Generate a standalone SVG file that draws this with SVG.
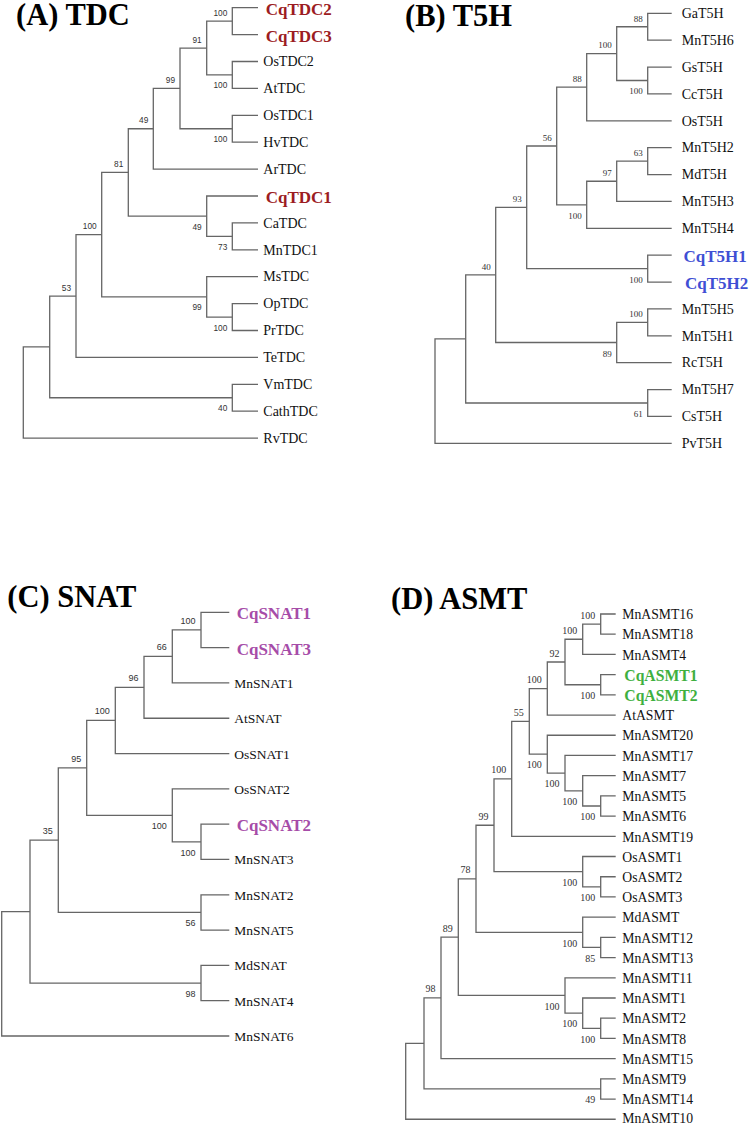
<svg xmlns="http://www.w3.org/2000/svg" width="749" height="1124" viewBox="0 0 749 1124">
<style>
.br{fill:none;stroke:#666;stroke-width:1.3}
.ttl{font-family:"Liberation Serif","Times New Roman",serif;font-weight:bold;font-size:30.5px;fill:#000}
.lf{font-family:"Liberation Serif","Times New Roman",serif;fill:#111}
.la{font-size:14px}
.lc{font-size:13.5px}
.ld{font-size:13.7px}
.hA{font-weight:bold;font-size:17px;fill:#9c1c22}
.hB{font-weight:bold;font-size:17px;fill:#3f4fd4}
.hC{font-weight:bold;font-size:17px;fill:#a64ca8}
.hD{font-weight:bold;font-size:15.7px;fill:#3fb03f}
.bs{font-family:"Liberation Sans",Arial,sans-serif;fill:#333;text-anchor:end}
.bsr{font-family:"Liberation Serif","Times New Roman",serif;fill:#333;text-anchor:end}
.bA{font-size:8.3px}
.bB{font-size:9px}
.bC{font-size:9px}
.bD{font-size:10px}
</style>

<!-- Panel A -->
<g id="panelA">
<text class="ttl" x="16" y="25">(A) TDC</text>
<g id="connectorsA">
<path class="br" d="M258 7.7 H232.3 V34.6 H258"/>
<path class="br" d="M258 61.5 H232.3 V88.4 H258"/>
<path class="br" d="M232.3 21.15 H206.7 V74.95 H232.3"/>
<path class="br" d="M258 115.3 H232.3 V142.2 H258"/>
<path class="br" d="M206.7 48.05 H180 V128.75 H232.3"/>
<path class="br" d="M180 88.4 H153.3 V169.1 H258"/>
<path class="br" d="M258 222.9 H232.3 V249.8 H258"/>
<path class="br" d="M258 196 H206.7 V236.35 H232.3"/>
<path class="br" d="M153.3 128.75 H128.3 V216.18 H206.7"/>
<path class="br" d="M258 303.6 H232.3 V330.5 H258"/>
<path class="br" d="M258 276.7 H206.7 V317.05 H232.3"/>
<path class="br" d="M128.3 172.46 H101.7 V296.88 H206.7"/>
<path class="br" d="M101.7 234.67 H76 V357.4 H258"/>
<path class="br" d="M258 384.3 H232.3 V411.2 H258"/>
<path class="br" d="M76 296.03 H49.7 V397.75 H232.3"/>
<path class="br" d="M49.7 346.89 H23.3 V438.1 H258"/>
</g>
<g id="bootstrapA" class="bs bA">
<text x="227.3" y="15.65">100</text>
<text x="227.3" y="88.45">100</text>
<text x="201.7" y="42.55">91</text>
<text x="227.3" y="142.25">100</text>
<text x="175" y="82.9">99</text>
<text x="148.3" y="123.25">49</text>
<text x="123.3" y="166.96">81</text>
<text x="201.7" y="229.68">49</text>
<text x="227.3" y="249.85">73</text>
<text x="96.7" y="229.17">100</text>
<text x="201.7" y="310.38">99</text>
<text x="227.3" y="330.55">100</text>
<text x="71" y="290.53">53</text>
<text x="227.3" y="411.25">40</text>
</g>
<g id="A-CqTDC2"><text class="lf hA" x="265.7" y="14.7">CqTDC2</text></g>
<g id="A-CqTDC3"><text class="lf hA" x="265.7" y="41.6">CqTDC3</text></g>
<g id="A-OsTDC2"><text class="lf la" x="263.3" y="66.2">OsTDC2</text></g>
<g id="A-AtTDC"><text class="lf la" x="263.3" y="93.1">AtTDC</text></g>
<g id="A-OsTDC1"><text class="lf la" x="263.3" y="120">OsTDC1</text></g>
<g id="A-HvTDC"><text class="lf la" x="263.3" y="146.9">HvTDC</text></g>
<g id="A-ArTDC"><text class="lf la" x="263.3" y="173.8">ArTDC</text></g>
<g id="A-CqTDC1"><text class="lf hA" x="265.7" y="203">CqTDC1</text></g>
<g id="A-CaTDC"><text class="lf la" x="263.3" y="227.6">CaTDC</text></g>
<g id="A-MnTDC1"><text class="lf la" x="263.3" y="254.5">MnTDC1</text></g>
<g id="A-MsTDC"><text class="lf la" x="263.3" y="281.4">MsTDC</text></g>
<g id="A-OpTDC"><text class="lf la" x="263.3" y="308.3">OpTDC</text></g>
<g id="A-PrTDC"><text class="lf la" x="263.3" y="335.2">PrTDC</text></g>
<g id="A-TeTDC"><text class="lf la" x="263.3" y="362.1">TeTDC</text></g>
<g id="A-VmTDC"><text class="lf la" x="263.3" y="389">VmTDC</text></g>
<g id="A-CathTDC"><text class="lf la" x="263.3" y="415.9">CathTDC</text></g>
<g id="A-RvTDC"><text class="lf la" x="263.3" y="442.8">RvTDC</text></g>
</g>

<!-- Panel B -->
<g id="panelB">
<text class="ttl" x="405" y="25.5">(B) T5H</text>
<g id="connectorsB">
<path class="br" d="M671.7 13.3 H647.7 V40.18 H671.7"/>
<path class="br" d="M671.7 67.05 H647.7 V93.93 H671.7"/>
<path class="br" d="M647.7 26.74 H616.7 V80.49 H647.7"/>
<path class="br" d="M616.7 53.62 H586.7 V120.8 H671.7"/>
<path class="br" d="M671.7 147.68 H647.7 V174.55 H671.7"/>
<path class="br" d="M647.7 161.12 H616.7 V201.43 H671.7"/>
<path class="br" d="M616.7 181.27 H586.7 V228.3 H671.7"/>
<path class="br" d="M586.7 87.21 H556.7 V204.79 H586.7"/>
<path class="br" d="M671.7 255.18 H647.7 V282.05 H671.7"/>
<path class="br" d="M556.7 146 H526.7 V268.61 H647.7"/>
<path class="br" d="M671.7 308.93 H647.7 V335.8 H671.7"/>
<path class="br" d="M647.7 322.37 H616.7 V362.68 H671.7"/>
<path class="br" d="M526.7 207.3 H495.7 V342.52 H616.7"/>
<path class="br" d="M671.7 389.55 H647.7 V416.43 H671.7"/>
<path class="br" d="M495.7 274.91 H465.7 V402.99 H647.7"/>
<path class="br" d="M465.7 338.95 H435 V443.3 H671.7"/>
</g>
<g id="bootstrapB" class="bsr bB">
<text x="642.7" y="21.54">88</text>
<text x="642.7" y="94.49">100</text>
<text x="611.7" y="48.42">100</text>
<text x="581.7" y="82.01">88</text>
<text x="642.7" y="155.92">63</text>
<text x="611.7" y="176.07">97</text>
<text x="581.7" y="218.79">100</text>
<text x="551.7" y="140.8">56</text>
<text x="642.7" y="282.61">100</text>
<text x="521.7" y="202.1">93</text>
<text x="642.7" y="317.17">100</text>
<text x="611.7" y="356.52">89</text>
<text x="490.7" y="269.71">40</text>
<text x="642.7" y="416.99">61</text>
</g>
<g id="B-GaT5H"><text class="lf la" x="681.7" y="18.1">GaT5H</text></g>
<g id="B-MnT5H6"><text class="lf la" x="681.7" y="44.98">MnT5H6</text></g>
<g id="B-GsT5H"><text class="lf la" x="681.7" y="71.85">GsT5H</text></g>
<g id="B-CcT5H"><text class="lf la" x="681.7" y="98.73">CcT5H</text></g>
<g id="B-OsT5H"><text class="lf la" x="681.7" y="125.6">OsT5H</text></g>
<g id="B-MnT5H2"><text class="lf la" x="681.7" y="152.48">MnT5H2</text></g>
<g id="B-MdT5H"><text class="lf la" x="681.7" y="179.35">MdT5H</text></g>
<g id="B-MnT5H3"><text class="lf la" x="681.7" y="206.23">MnT5H3</text></g>
<g id="B-MnT5H4"><text class="lf la" x="681.7" y="233.1">MnT5H4</text></g>
<g id="B-CqT5H1"><text class="lf hB" x="683.5" y="262.18">CqT5H1</text></g>
<g id="B-CqT5H2"><text class="lf hB" x="685" y="289.05">CqT5H2</text></g>
<g id="B-MnT5H5"><text class="lf la" x="681.7" y="313.73">MnT5H5</text></g>
<g id="B-MnT5H1"><text class="lf la" x="681.7" y="340.6">MnT5H1</text></g>
<g id="B-RcT5H"><text class="lf la" x="681.7" y="367.48">RcT5H</text></g>
<g id="B-MnT5H7"><text class="lf la" x="681.7" y="394.35">MnT5H7</text></g>
<g id="B-CsT5H"><text class="lf la" x="681.7" y="421.23">CsT5H</text></g>
<g id="B-PvT5H"><text class="lf la" x="681.7" y="448.1">PvT5H</text></g>
</g>

<!-- Panel C -->
<g id="panelC">
<text class="ttl" x="7.3" y="606.5">(C) SNAT</text>
<g id="connectorsC">
<path class="br" d="M229.3 612.3 H201 V647.61 H229.3"/>
<path class="br" d="M201 629.96 H172.3 V682.92 H229.3"/>
<path class="br" d="M172.3 656.44 H144 V718.23 H229.3"/>
<path class="br" d="M144 687.33 H115.3 V753.54 H229.3"/>
<path class="br" d="M229.3 824.16 H201 V859.47 H229.3"/>
<path class="br" d="M229.3 788.85 H172.3 V841.82 H201"/>
<path class="br" d="M115.3 720.44 H86.7 V815.33 H172.3"/>
<path class="br" d="M229.3 894.78 H201 V930.09 H229.3"/>
<path class="br" d="M86.7 767.88 H58.3 V912.44 H201"/>
<path class="br" d="M229.3 965.4 H201 V1000.71 H229.3"/>
<path class="br" d="M58.3 840.16 H30 V983.06 H201"/>
<path class="br" d="M30 911.61 H1.7 V1036.02 H229.3"/>
</g>
<g id="bootstrapC" class="bs bC">
<text x="195.5" y="623.96">100</text>
<text x="166.8" y="650.44">66</text>
<text x="138.5" y="681.33">96</text>
<text x="109.8" y="714.44">100</text>
<text x="195.5" y="855.82">100</text>
<text x="166.8" y="829">100</text>
<text x="81.2" y="761.88">95</text>
<text x="195.5" y="926.44">56</text>
<text x="52.8" y="834.16">35</text>
<text x="195.5" y="997.06">98</text>
</g>
<g id="C-CqSNAT1"><text class="lf hC" x="236.7" y="619.3">CqSNAT1</text></g>
<g id="C-CqSNAT3"><text class="lf hC" x="236.7" y="654.61">CqSNAT3</text></g>
<g id="C-MnSNAT1"><text class="lf lc" x="234.3" y="687.92">MnSNAT1</text></g>
<g id="C-AtSNAT"><text class="lf lc" x="234.3" y="723.23">AtSNAT</text></g>
<g id="C-OsSNAT1"><text class="lf lc" x="234.3" y="758.54">OsSNAT1</text></g>
<g id="C-OsSNAT2"><text class="lf lc" x="234.3" y="793.85">OsSNAT2</text></g>
<g id="C-CqSNAT2"><text class="lf hC" x="236.7" y="831.16">CqSNAT2</text></g>
<g id="C-MnSNAT3"><text class="lf lc" x="234.3" y="864.47">MnSNAT3</text></g>
<g id="C-MnSNAT2"><text class="lf lc" x="234.3" y="899.78">MnSNAT2</text></g>
<g id="C-MnSNAT5"><text class="lf lc" x="234.3" y="935.09">MnSNAT5</text></g>
<g id="C-MdSNAT"><text class="lf lc" x="234.3" y="970.4">MdSNAT</text></g>
<g id="C-MnSNAT4"><text class="lf lc" x="234.3" y="1005.71">MnSNAT4</text></g>
<g id="C-MnSNAT6"><text class="lf lc" x="234.3" y="1041.02">MnSNAT6</text></g>
</g>

<!-- Panel D -->
<g id="panelD">
<text class="ttl" x="391" y="609">(D) ASMT</text>
<g id="connectorsD">
<path class="br" d="M615.7 614 H600.7 V634.21 H615.7"/>
<path class="br" d="M600.7 624.11 H582.7 V654.42 H615.7"/>
<path class="br" d="M615.7 674.63 H600.7 V694.84 H615.7"/>
<path class="br" d="M582.7 639.27 H565 V684.74 H600.7"/>
<path class="br" d="M565 662 H547.3 V715.05 H615.7"/>
<path class="br" d="M615.7 795.89 H600.7 V816.1 H615.7"/>
<path class="br" d="M615.7 775.68 H582.7 V806 H600.7"/>
<path class="br" d="M615.7 755.47 H565 V790.84 H582.7"/>
<path class="br" d="M615.7 735.26 H547.3 V773.15 H565"/>
<path class="br" d="M547.3 688.53 H529.3 V754.21 H547.3"/>
<path class="br" d="M529.3 721.37 H511.7 V836.31 H615.7"/>
<path class="br" d="M615.7 876.73 H600.7 V896.94 H615.7"/>
<path class="br" d="M615.7 856.52 H582.7 V886.84 H600.7"/>
<path class="br" d="M511.7 778.84 H494 V871.68 H582.7"/>
<path class="br" d="M615.7 937.36 H600.7 V957.57 H615.7"/>
<path class="br" d="M615.7 917.15 H582.7 V947.47 H600.7"/>
<path class="br" d="M494 825.26 H476 V932.31 H582.7"/>
<path class="br" d="M615.7 1018.2 H600.7 V1038.41 H615.7"/>
<path class="br" d="M615.7 997.99 H582.7 V1028.31 H600.7"/>
<path class="br" d="M615.7 977.78 H565 V1013.15 H582.7"/>
<path class="br" d="M476 878.79 H458.3 V995.47 H565"/>
<path class="br" d="M458.3 937.13 H441 V1058.62 H615.7"/>
<path class="br" d="M615.7 1078.83 H600.7 V1099.04 H615.7"/>
<path class="br" d="M441 997.88 H424 V1088.94 H600.7"/>
<path class="br" d="M424 1043.41 H405.7 V1119.25 H615.7"/>
</g>
<g id="bootstrapD" class="bsr bD">
<text x="595.2" y="618.61">100</text>
<text x="577.2" y="633.77">100</text>
<text x="595.2" y="698.94">100</text>
<text x="559.5" y="656.5">92</text>
<text x="541.8" y="683.03">100</text>
<text x="595.2" y="820.2">100</text>
<text x="577.2" y="805.04">100</text>
<text x="559.5" y="787.35">100</text>
<text x="541.8" y="768.41">100</text>
<text x="523.8" y="715.87">55</text>
<text x="506.2" y="773.34">100</text>
<text x="595.2" y="901.04">100</text>
<text x="577.2" y="885.88">100</text>
<text x="488.5" y="819.76">99</text>
<text x="595.2" y="961.67">85</text>
<text x="577.2" y="946.51">100</text>
<text x="470.5" y="873.29">78</text>
<text x="595.2" y="1042.51">100</text>
<text x="577.2" y="1027.35">100</text>
<text x="559.5" y="1009.67">100</text>
<text x="452.8" y="931.63">89</text>
<text x="435.5" y="992.38">98</text>
<text x="595.2" y="1103.14">49</text>
</g>
<g id="D-MnASMT16"><text class="lf ld" x="622.3" y="619.2">MnASMT16</text></g>
<g id="D-MnASMT18"><text class="lf ld" x="622.3" y="639.41">MnASMT18</text></g>
<g id="D-MnASMT4"><text class="lf ld" x="622.3" y="659.62">MnASMT4</text></g>
<g id="D-CqASMT1"><text class="lf hD" x="624.3" y="680.63">CqASMT1</text></g>
<g id="D-CqASMT2"><text class="lf hD" x="624.3" y="700.84">CqASMT2</text></g>
<g id="D-AtASMT"><text class="lf ld" x="622.3" y="720.25">AtASMT</text></g>
<g id="D-MnASMT20"><text class="lf ld" x="622.3" y="740.46">MnASMT20</text></g>
<g id="D-MnASMT17"><text class="lf ld" x="622.3" y="760.67">MnASMT17</text></g>
<g id="D-MnASMT7"><text class="lf ld" x="622.3" y="780.88">MnASMT7</text></g>
<g id="D-MnASMT5"><text class="lf ld" x="622.3" y="801.09">MnASMT5</text></g>
<g id="D-MnASMT6"><text class="lf ld" x="622.3" y="821.3">MnASMT6</text></g>
<g id="D-MnASMT19"><text class="lf ld" x="622.3" y="841.51">MnASMT19</text></g>
<g id="D-OsASMT1"><text class="lf ld" x="622.3" y="861.72">OsASMT1</text></g>
<g id="D-OsASMT2"><text class="lf ld" x="622.3" y="881.93">OsASMT2</text></g>
<g id="D-OsASMT3"><text class="lf ld" x="622.3" y="902.14">OsASMT3</text></g>
<g id="D-MdASMT"><text class="lf ld" x="622.3" y="922.35">MdASMT</text></g>
<g id="D-MnASMT12"><text class="lf ld" x="622.3" y="942.56">MnASMT12</text></g>
<g id="D-MnASMT13"><text class="lf ld" x="622.3" y="962.77">MnASMT13</text></g>
<g id="D-MnASMT11"><text class="lf ld" x="622.3" y="982.98">MnASMT11</text></g>
<g id="D-MnASMT1"><text class="lf ld" x="622.3" y="1003.19">MnASMT1</text></g>
<g id="D-MnASMT2"><text class="lf ld" x="622.3" y="1023.4">MnASMT2</text></g>
<g id="D-MnASMT8"><text class="lf ld" x="622.3" y="1043.61">MnASMT8</text></g>
<g id="D-MnASMT15"><text class="lf ld" x="622.3" y="1063.82">MnASMT15</text></g>
<g id="D-MnASMT9"><text class="lf ld" x="622.3" y="1084.03">MnASMT9</text></g>
<g id="D-MnASMT14"><text class="lf ld" x="622.3" y="1104.24">MnASMT14</text></g>
<g id="D-MnASMT10"><text class="lf ld" x="622.3" y="1122.6">MnASMT10</text></g>
</g>
</svg>
